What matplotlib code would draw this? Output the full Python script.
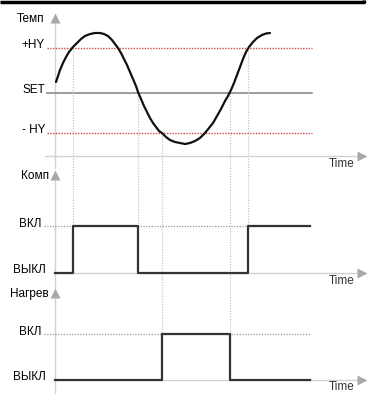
import matplotlib.pyplot as plt

# Диаграмма работы регулятора с гистерезисом (схема)
time_pts = [56, 58, 60, 63, 66, 69, 73, 77, 81, 85, 90, 95, 100, 104, 108, 112,
            115, 118, 121, 124, 127, 130, 133, 136, 138, 141, 144, 147, 150, 153,
            156, 159, 162, 166, 170, 175, 180, 185, 190, 195, 200, 205, 209, 213,
            217, 221, 225, 228, 231, 234, 237, 240, 243, 246, 249, 253, 257, 262,
            266, 270]
temp_pts = [82, 76, 70, 63, 57, 52, 47, 43, 39, 36, 34, 33, 33, 34, 36, 40,
            44, 48, 53, 59, 65, 72, 79, 86, 92, 99, 106, 112, 118, 123,
            127, 131, 133, 137, 140, 142, 143, 144, 143, 141, 138, 133, 128, 123,
            116, 109, 101, 96, 90, 83, 75, 67, 59, 52, 47, 42, 38, 35,
            33.5, 33]

temp_levels = {'+HY': 48, 'SET': 93, '- HY': 133}
switch_t = [73, 138, 162, 230, 248]

comp_t = [55, 73, 73, 138, 138, 248, 248, 310]
comp_on = [0, 0, 1, 1, 0, 0, 1, 1]
heat_t = [55, 162, 162, 230, 230, 310]
heat_on = [0, 0, 1, 1, 0, 0]

panels = ['Темп', 'Комп', 'Нагрев']

fig = plt.figure(figsize=(3.73, 3.94), dpi=100)
ax = fig.add_axes([0, 0, 1, 1])
ax.set_xlim(0, 373)
ax.set_ylim(394, 0)
ax.axis('off')

plt.rcParams['font.family'] = ['Liberation Sans', 'DejaVu Sans']
fs = 8.5
grey = '#a8a8a8'
axcol = '#d2d2d2'
x0 = 55

# рамка сверху
ax.plot([0, 364, 364], [2, 2, 0], color='black', lw=2.5, solid_capstyle='butt')

# панель температуры
ax.plot([x0, x0], [20, 168], color=axcol, lw=1)
ax.plot(x0, 18, marker='^', color=grey, ms=7, mec='none')
ax.text(17, 19, panels[0], fontsize=fs, va='center', ha='left')
ax.plot([45, 360], [156, 156], color=axcol, lw=1)
ax.plot(362, 156, marker='>', color=grey, ms=7, mec='none')
ax.text(342, 164, 'Time', fontsize=fs, va='center', ha='center', color='#333333')

for name, lvl in temp_levels.items():
    if name == 'SET':
        ax.plot([47, 312], [lvl, lvl], color='#8a8a8a', lw=1.2)
    else:
        ax.plot([47, 312], [lvl, lvl], color='#d04848', lw=1, ls=(0, (1, 1)))
    ax.text(45, lvl - 3, name, fontsize=fs, va='center', ha='right')

# вертикальные пунктиры в моменты переключения
ends = {73: 226, 138: 226, 162: 334, 230: 334, 248: 226}
starts = {73: 48, 138: 93, 162: 133, 230: 93, 248: 48}
for t in switch_t:
    ax.plot([t, t], [starts[t], ends[t]], color='#c4c4c4', lw=0.9, ls=(0, (1, 1.2)))

ax.plot(time_pts, temp_pts, color='#111111', lw=1.6, solid_capstyle='round',
        solid_joinstyle='round')

# цифровые панели
def digital(name, t, on, y_on, y_off, top, bottom, lab_y):
    ax.plot([x0, x0], [top, bottom], color=axcol, lw=1)
    ax.plot(x0, top - 1, marker='^', color=grey, ms=7, mec='none')
    ax.text(49, top, name, fontsize=fs, va='center', ha='right')
    ax.plot([x0, 360], [y_off, y_off], color=axcol, lw=1)
    ax.plot(362, y_off, marker='>', color=grey, ms=7, mec='none')
    ax.text(342, lab_y, 'Time', fontsize=fs, va='center', ha='center', color='#333333')
    ax.plot([44, 310], [y_on, y_on], color='#9a9a9a', lw=0.9, ls=(0, (1, 1.2)))
    ax.text(41, y_on - 2, 'ВКЛ', fontsize=fs, va='center', ha='right')
    ax.text(46, y_off - 3, 'ВЫКЛ', fontsize=fs, va='center', ha='right')
    ys = [y_on if s else y_off for s in on]
    ax.plot(t, ys, color='#333333', lw=1.6)

digital(panels[1], comp_t, comp_on, 226, 273, 176, 290, 281)
digital(panels[2], heat_t, heat_on, 334, 380, 294, 393, 387)

fig.savefig('out.png', dpi=100)
